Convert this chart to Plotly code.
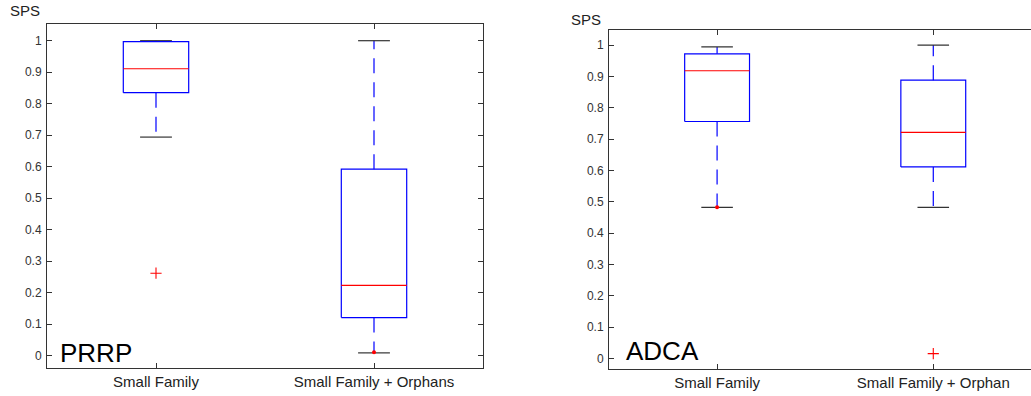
import plotly.graph_objects as go

# ---------------- data ----------------
prrp_groups = ["Small Family", "Small Family + Orphans"]
prrp_lower = [0.694, 0.009]
prrp_q1 = [0.835, 0.121]
prrp_median = [0.911, 0.223]
prrp_q3 = [0.997, 0.592]
prrp_upper = [1.0, 1.0]
prrp_outliers = [[0.262], []]
prrp_dots = [[], [0.011]]

adca_groups = ["Small Family", "Small Family + Orphan"]
adca_lower = [0.482, 0.482]
adca_q1 = [0.756, 0.611]
adca_median = [0.918, 0.721]
adca_q3 = [0.972, 0.888]
adca_upper = [0.994, 1.0]
adca_outliers = [[], [0.015]]
adca_dots = [[0.482], []]

y_ticks = [0, 0.1, 0.2, 0.3, 0.4, 0.5, 0.6, 0.7, 0.8, 0.9, 1]

# ---------------- style ----------------
W, H = 1031, 396
BOX_HW = 0.15
CAP_HW = 0.073
BLUE = "#0000ff"
RED = "#ff0000"
CAPC = "#333333"
AXC = "#333333"
FONT = "Liberation Sans, Arial, sans-serif"

fig = go.Figure()


def add_panel(xa, ya, lower, q1, med, q3, upper, outliers, dots):
    for i in range(len(med)):
        p = i + 1
        # whiskers (dashed)
        fig.add_trace(go.Scatter(x=[p, p, None, p, p], y=[q3[i], upper[i], None, q1[i], lower[i]],
                                 mode="lines", line=dict(color=BLUE, width=1.2, dash="15px,9px"),
                                 xaxis=xa, yaxis=ya, hoverinfo="skip", showlegend=False))
        # caps
        fig.add_trace(go.Scatter(x=[p - CAP_HW, p + CAP_HW, None, p - CAP_HW, p + CAP_HW],
                                 y=[upper[i], upper[i], None, lower[i], lower[i]],
                                 mode="lines", line=dict(color=CAPC, width=1.2),
                                 xaxis=xa, yaxis=ya, hoverinfo="skip", showlegend=False))
        # box
        fig.add_trace(go.Scatter(x=[p - BOX_HW, p + BOX_HW, p + BOX_HW, p - BOX_HW, p - BOX_HW],
                                 y=[q1[i], q1[i], q3[i], q3[i], q1[i]],
                                 mode="lines", line=dict(color=BLUE, width=1.2),
                                 xaxis=xa, yaxis=ya, hoverinfo="skip", showlegend=False))
        # median
        fig.add_trace(go.Scatter(x=[p - BOX_HW, p + BOX_HW], y=[med[i], med[i]],
                                 mode="lines", line=dict(color=RED, width=1.2),
                                 xaxis=xa, yaxis=ya, hoverinfo="skip", showlegend=False))
        if outliers[i]:
            fig.add_trace(go.Scatter(x=[p] * len(outliers[i]), y=outliers[i], mode="markers",
                                     marker=dict(symbol="cross-thin", size=8,
                                                 line=dict(color=RED, width=1.1)),
                                     xaxis=xa, yaxis=ya, hoverinfo="skip", showlegend=False))
        if dots[i]:
            fig.add_trace(go.Scatter(x=[p] * len(dots[i]), y=dots[i], mode="markers",
                                     marker=dict(symbol="circle", size=4, color=RED),
                                     xaxis=xa, yaxis=ya, hoverinfo="skip", showlegend=False))


add_panel("x", "y", prrp_lower, prrp_q1, prrp_median, prrp_q3, prrp_upper, prrp_outliers, prrp_dots)
add_panel("x2", "y2", adca_lower, adca_q1, adca_median, adca_q3, adca_upper, adca_outliers, adca_dots)

common_x = dict(showgrid=False, zeroline=False, showline=True, linecolor=AXC, linewidth=1,
                ticks="inside", ticklen=5, tickcolor=AXC, tickvals=[1, 2],
                tickfont=dict(family=FONT, size=15, color="#222222"))
common_y = dict(showgrid=False, zeroline=False, showline=True, linecolor=AXC, linewidth=1,
                ticks="inside", ticklen=5, tickcolor=AXC, tickvals=y_ticks,
                ticktext=[("%g" % v) for v in y_ticks],
                tickfont=dict(family=FONT, size=12, color="#333333"), ticklabelstandoff=2)

fig.update_layout(
    width=W, height=H, autosize=False,
    margin=dict(l=0, r=0, t=0, b=0),
    paper_bgcolor="white", plot_bgcolor="white",
    xaxis=dict(common_x, domain=[47 / W, 483 / W], range=[0.5, 2.5], ticktext=prrp_groups,
               mirror="ticks", anchor="y"),
    yaxis=dict(common_y, domain=[1 - 368 / H, 1 - 24 / H], range=[-0.039, 1.053],
               mirror="ticks", anchor="x"),
    xaxis2=dict(common_x, domain=[609 / W, 1.0], range=[0.5, 2.452], ticktext=adca_groups,
                mirror="ticks", anchor="y2"),
    yaxis2=dict(common_y, domain=[1 - 369.3 / H, 1 - 29.7 / H], range=[-0.035, 1.049],
                mirror=False, anchor="x2"),
    annotations=[
        dict(text="SPS", xref="paper", yref="paper", x=8 / W, y=1 - 10 / H, xanchor="left",
             yanchor="middle", showarrow=False, font=dict(family=FONT, size=15, color="#222222")),
        dict(text="SPS", xref="paper", yref="paper", x=569 / W, y=1 - 19 / H, xanchor="left",
             yanchor="middle", showarrow=False, font=dict(family=FONT, size=15, color="#222222")),
        dict(text="PRRP", xref="paper", yref="paper", x=58 / W, y=1 - 353 / H, xanchor="left",
             yanchor="middle", showarrow=False, font=dict(family=FONT, size=26, color="black")),
        dict(text="ADCA", xref="paper", yref="paper", x=624 / W, y=1 - 351 / H, xanchor="left",
             yanchor="middle", showarrow=False, font=dict(family=FONT, size=26, color="black")),
    ],
)

fig.write_html("out.html")
